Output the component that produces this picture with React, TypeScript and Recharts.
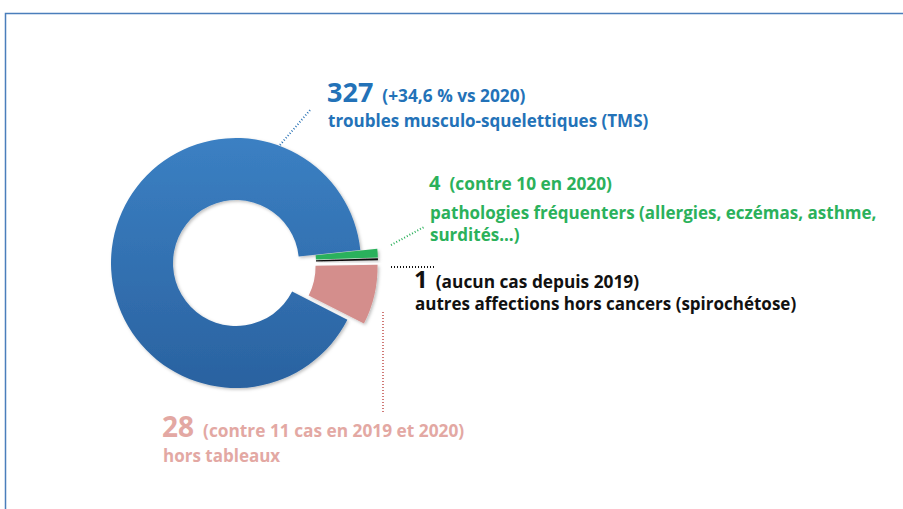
import { Cell, Pie, PieChart } from 'recharts';

// slices, counter-clockwise from the first angle
const labels = ['TMS', 'hors tableaux', 'autres affections', 'pathologies'];
const values = [327, 28, 1, 4];
const colors = ['url(#blueGrad)', '#d48e8c', '#111111', '#2bb15b'];
const exploded = [false, true, true, true];

const START = 6;
const EXPLODE = 17;

const data = labels.map((name, i) => ({ name, value: values[i] }));

function sliceOffsets(): Array<[number, number]> {
  const total = values.reduce((a, b) => a + b, 0);
  let acc = START;
  return values.map((v, i) => {
    const span = (v / total) * 360;
    const mid = acc + span / 2;
    acc += span;
    if (!exploded[i]) return [0, 0];
    const rad = (mid * Math.PI) / 180;
    return [EXPLODE * Math.cos(rad), -EXPLODE * Math.sin(rad)];
  });
}

const font = '"Open Sans", Lato, sans-serif';
const body = 17;
const note = 17.3;

export default function App() {
  const offsets = sliceOffsets();
  return (
    <div style={{ position: 'absolute', left: 0, top: 0, width: 903, height: 509, background: '#fff' }}>
      <PieChart width={903} height={509} margin={{ top: 0, right: 0, bottom: 0, left: 0 }}>
        <defs>
          <linearGradient id="blueGrad" x1="0" y1="0" x2="0" y2="1">
            <stop offset="0%" stopColor="#3b80c3" />
            <stop offset="100%" stopColor="#2a62a0" />
          </linearGradient>
          <filter id="shade" x="-20%" y="-20%" width="140%" height="140%">
            <feDropShadow dx="1.5" dy="1.5" stdDeviation="1.5" floodColor="#000" floodOpacity="0.25" />
          </filter>
        </defs>
        <path d="M5.5,509 V13.5 H903" fill="none" stroke="#4a7ebb" strokeWidth={1.5} />
        <Pie
          data={data}
          dataKey="value"
          cx={236}
          cy={263}
          innerRadius={63}
          outerRadius={125}
          startAngle={START}
          endAngle={START + 360}
          stroke="none"
          isAnimationActive={false}
          label={false}
          labelLine={false}
        >
          {data.map((d, i) => (
            <Cell
              key={d.name}
              fill={colors[i]}
              filter="url(#shade)"
              transform={`translate(${offsets[i][0]},${offsets[i][1]})`}
            />
          ))}
        </Pie>

        {/* leader lines */}
        <line x1={280} y1={145} x2={311} y2={109} stroke="#2e75b6" strokeWidth={2} strokeDasharray="1 2" />
        <line x1={391} y1={245} x2={424} y2={227} stroke="#2bb15b" strokeWidth={2} strokeDasharray="1 2" />
        <line x1={391} y1={267} x2={436} y2={267} stroke="#111" strokeWidth={2} strokeDasharray="1 2" />
        <line x1={383} y1={312} x2={383} y2={412} stroke="#d07a78" strokeWidth={2} strokeDasharray="1 2" />

        {/* TMS */}
        <text x={327} y={102} fontFamily={font} fontWeight={700} fill="#2372b8">
          <tspan fontSize={27}>327</tspan>
          <tspan dx={9} fontSize={note}>(+34,6 % vs 2020)</tspan>
        </text>
        <text x={328} y={127} fontFamily={font} fontWeight={700} fontSize={body} fill="#2372b8">
          troubles musculo-squelettiques (TMS)
        </text>

        {/* pathologies */}
        <text x={429} y={190} fontFamily={font} fontWeight={700} fill="#2bb15b">
          <tspan fontSize={20}>4</tspan>
          <tspan dx={9} fontSize={note}>(contre 10 en 2020)</tspan>
        </text>
        <text x={430} y={219} fontFamily={font} fontWeight={700} fontSize={body} fill="#2bb15b">
          pathologies fréquenters (allergies, eczémas, asthme,
        </text>
        <text x={430} y={241} fontFamily={font} fontWeight={700} fontSize={body} fill="#2bb15b">
          surdités...)
        </text>

        {/* autres affections */}
        <text x={414} y={288} fontFamily={font} fontWeight={700} fill="#111">
          <tspan fontSize={24}>1</tspan>
          <tspan dx={8} fontSize={note}>(aucun cas depuis 2019)</tspan>
        </text>
        <text x={415} y={310} fontFamily={font} fontWeight={700} fontSize={body} fill="#111">
          autres affections hors cancers (spirochétose)
        </text>

        {/* hors tableaux */}
        <text x={162} y={437} fontFamily={font} fontWeight={700} fill="#e3a8a3">
          <tspan fontSize={28}>28</tspan>
          <tspan dx={9} fontSize={note}>(contre 11 cas en 2019 et 2020)</tspan>
        </text>
        <text x={163} y={462} fontFamily={font} fontWeight={700} fontSize={body} fill="#e3a8a3">
          hors tableaux
        </text>
      </PieChart>
    </div>
  );
}
